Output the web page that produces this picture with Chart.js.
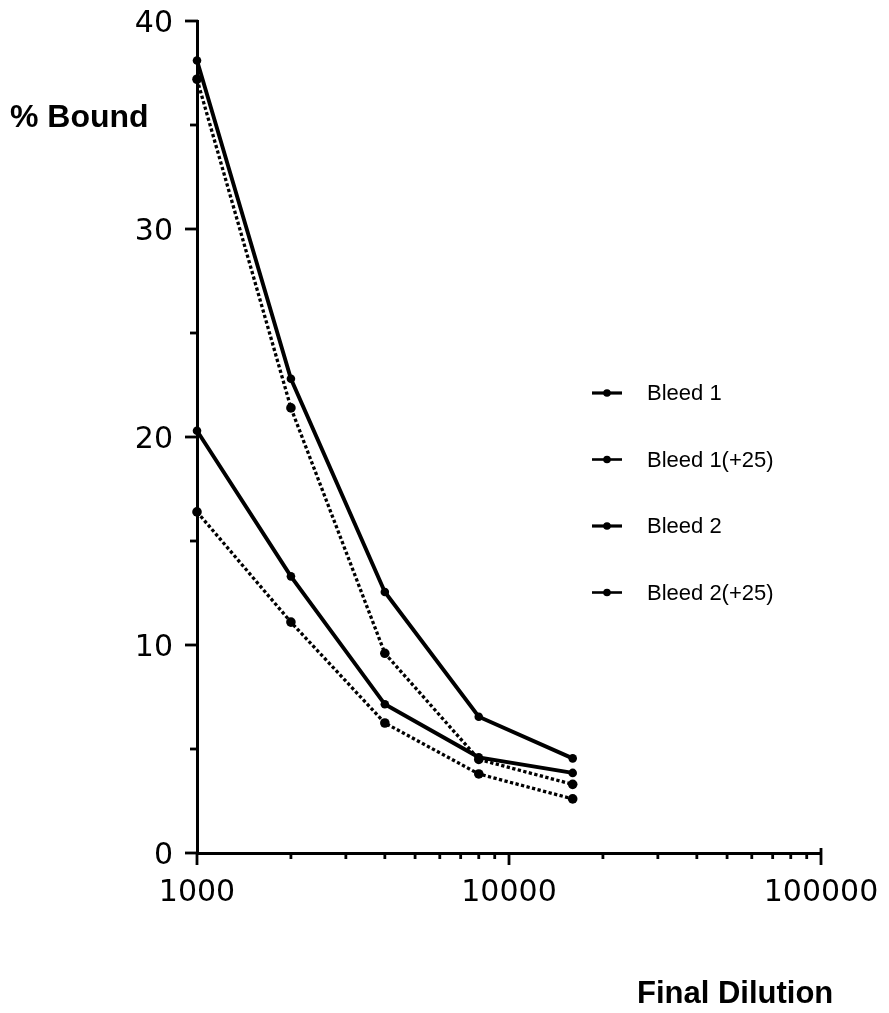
<!DOCTYPE html>
<html lang="en">
<head>
<meta charset="UTF-8">
<title>% Bound vs Final Dilution</title>
<script src="https://cdn.jsdelivr.net/npm/chart.js"></script>
<style>
  body { margin: 0; background: #fff; }
  #wrap { width: 889px; height: 1013px; }
</style>
</head>
<body>
<div id="wrap">
  <canvas id="grafico" width="889" height="1013"></canvas>
</div>
<script>
// final dilution (x, log scale) and % bound for each bleed
const dilutions = [1000, 2000, 4000, 8000, 16000]
const bleed1 = [38.1, 22.8, 12.55, 6.55, 4.55]
const bleed1Plus25 = [37.2, 21.4, 9.6, 4.5, 3.3]
const bleed2 = [20.3, 13.3, 7.15, 4.6, 3.85]
const bleed2Plus25 = [16.4, 11.1, 6.25, 3.8, 2.6]

const seriesNames = ['Bleed 1', 'Bleed 1(+25)', 'Bleed 2', 'Bleed 2(+25)']
const yTicks = [0, 10, 20, 30, 40]
const xTicks = [1000, 10000, 100000]

const solid = { borderWidth: 3.9, borderDash: [], keyWidth: 3.2, radius: 4.3 }
const dotted = { borderWidth: 3.3, borderDash: [3.3, 2.4], keyWidth: 2.6, radius: 4.8 }

const toPoints = vals => vals.map((v, i) => ({ x: dilutions[i], y: v }))

const makeSet = (label, vals, style) => ({
  label: label,
  data: toPoints(vals),
  borderColor: '#000',
  backgroundColor: '#000',
  borderWidth: style.borderWidth,
  borderDash: style.borderDash,
  keyWidth: style.keyWidth,
  pointRadius: style.radius,
  pointBorderWidth: 0,
  pointBackgroundColor: '#000',
  tension: 0,
  clip: false
})

// axis ticks, titles and the legend
const extras = {
  id: 'extras',
  afterDraw(chart) {
    const ctx = chart.ctx
    const xs = chart.scales.x
    const ys = chart.scales.y
    const line = (x1, y1, x2, y2) => {
      ctx.beginPath()
      ctx.moveTo(x1, y1)
      ctx.lineTo(x2, y2)
      ctx.stroke()
    }
    ctx.save()
    ctx.strokeStyle = '#000'
    ctx.lineWidth = 2.8

    // y ticks every 5, longer at the labelled ones
    for (let v = 0; v <= 40; v += 5) {
      const py = ys.getPixelForValue(v)
      const len = v % 10 === 0 ? 12 : 7
      line(xs.left - len, py, xs.left + 1, py)
    }

    // x log ticks below the axis
    const base = ys.bottom
    for (let dec = 1000; dec < 100000; dec *= 10) {
      for (let m = 1; m < 10; m++) {
        const px = xs.getPixelForValue(dec * m)
        const len = m === 1 ? 12 : 6
        line(px, base - 1, px, base + len)
      }
    }
    const pEnd = xs.getPixelForValue(100000)
    line(pEnd, base - 5, pEnd, base + 12)

    // axis titles
    ctx.fillStyle = '#000'
    ctx.textBaseline = 'alphabetic'
    ctx.textAlign = 'left'
    ctx.font = 'bold 32px "Liberation Sans", Arial, sans-serif'
    ctx.fillText('% Bound', 10, 127)
    ctx.font = 'bold 31px "Liberation Sans", Arial, sans-serif'
    ctx.fillText('Final Dilution', 637, 1003)

    // legend
    ctx.font = '22px "Liberation Sans", Arial, sans-serif'
    ctx.textBaseline = 'middle'
    chart.data.datasets.forEach((ds, i) => {
      const ly = 393 + i * 66.5
      ctx.lineWidth = ds.keyWidth
      line(592, ly, 622, ly)
      ctx.beginPath()
      ctx.arc(607, ly, 3.8, 0, Math.PI * 2)
      ctx.fill()
      ctx.fillText(ds.label, 647, ly + 1)
    })
    ctx.restore()
  }
}

const ctx = document.getElementById('grafico')

let grafico = new Chart(ctx, {
  type: 'line',
  data: {
    datasets: [
      makeSet(seriesNames[0], bleed1, solid),
      makeSet(seriesNames[1], bleed1Plus25, dotted),
      makeSet(seriesNames[2], bleed2, solid),
      makeSet(seriesNames[3], bleed2Plus25, dotted)
    ]
  },
  options: {
    responsive: false,
    animation: false,
    events: [],
    layout: { padding: { top: 21, right: 68, left: 0, bottom: 0 } },
    plugins: {
      legend: { display: false },
      tooltip: { enabled: false }
    },
    scales: {
      x: {
        type: 'logarithmic',
        min: 1000,
        max: 100000,
        afterBuildTicks: s => { s.ticks = xTicks.map(v => ({ value: v })) },
        afterFit: s => {
          s.height = 160
          s.paddingLeft = 0
          s.paddingRight = 0
        },
        ticks: {
          autoSkip: false,
          maxRotation: 0,
          padding: 22,
          color: '#000',
          font: { family: '"DejaVu Sans", sans-serif', size: 30 },
          callback: v => String(v)
        },
        grid: { display: true, drawOnChartArea: false, drawTicks: false },
        border: { display: true, color: '#000', width: 3 }
      },
      y: {
        min: 0,
        max: 40,
        afterBuildTicks: s => { s.ticks = yTicks.map(v => ({ value: v })) },
        afterFit: s => {
          s.width = 197
          s.paddingTop = 0
          s.paddingBottom = 0
        },
        ticks: {
          padding: 24,
          labelOffset: 3,
          color: '#000',
          font: { family: '"DejaVu Sans", sans-serif', size: 30 }
        },
        grid: { display: true, drawOnChartArea: false, drawTicks: false },
        border: { display: true, color: '#000', width: 3 }
      }
    }
  },
  plugins: [extras]
})
</script>
</body>
</html>
